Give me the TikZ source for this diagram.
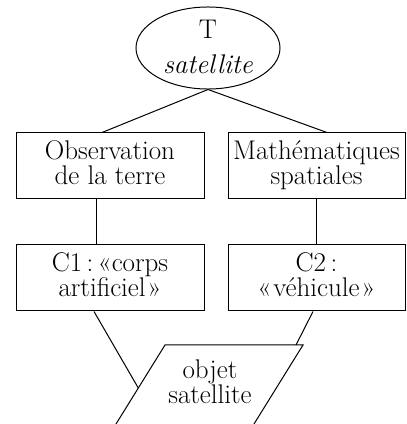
\documentclass[tikz,border=0pt]{standalone}
\usetikzlibrary{shapes.geometric}
\newcommand{\mytopst}{\rule{0pt}{20pt}}
\newcommand{\mybotst}{\rule[-7.6pt]{0pt}{7.6pt}}
\begin{document}
\begin{tikzpicture}[x=1pt,y=1pt,line width=1pt,
  every node/.style={font=\fontsize{27}{25}\selectfont, inner sep=0pt},
  box/.style={draw, rectangle, minimum height=66pt, align=center},
  link/.style={draw, line width=1pt}]
\useasboundingbox (0,0) rectangle (407,424);
\clip (0,0) rectangle (407,424);
% top ellipse
\node[draw, ellipse, minimum width=144pt, minimum height=80pt, align=center] (t) at (208,376)
  {\rule{0pt}{20pt}T\\[10pt]\textit{satellite}\rule[-3pt]{0pt}{3pt}};
% boxes
\node[box, minimum width=188pt] (b1) at (110,258) {\mytopst Observation\\de la terre\mybotst};
\node[box, minimum width=177pt] (b2) at (316.5,258) {\mytopst Mathématiques\\spatiales\mybotst};
\node[box, minimum width=188pt] (c1) at (110,146) {\mytopst C1\,:\,«corps\\artificiel\kern2pt»\mybotst};
\node[box, minimum width=177pt] (c2) at (316.5,146) {\mytopst C2\,:\\«\kern2pt véhicule\kern2pt»\mybotst};
% parallelogram
\coordinate (bl) at (109.8,-10);
\coordinate (tl) at (165,79);
\coordinate (tr) at (303,79);
\coordinate (br) at (247.8,-10);
\draw (bl) -- (tl) -- (tr) -- (br);
\node[align=center] (obj) at (210,39) {\mytopst objet\\satellite\mybotst};
\coordinate (pl) at (138.3,36);
\coordinate (pr) at (296,79);
% connectors
\draw[link] (t.south) -- ([xshift=-8pt]b1.north);
\draw[link] (t.south) -- ([xshift=10.5pt]b2.north);
\draw[link] ([xshift=-14pt]b1.south) -- ([xshift=-14pt]c1.north);
\draw[link] ([xshift=-0.5pt]b2.south) -- ([xshift=-0.5pt]c2.north);
\draw[link] ([xshift=-16pt]c1.south) -- (pl);
\draw[link] ([xshift=-3.5pt]c2.south) -- (pr);
\end{tikzpicture}
\end{document}
